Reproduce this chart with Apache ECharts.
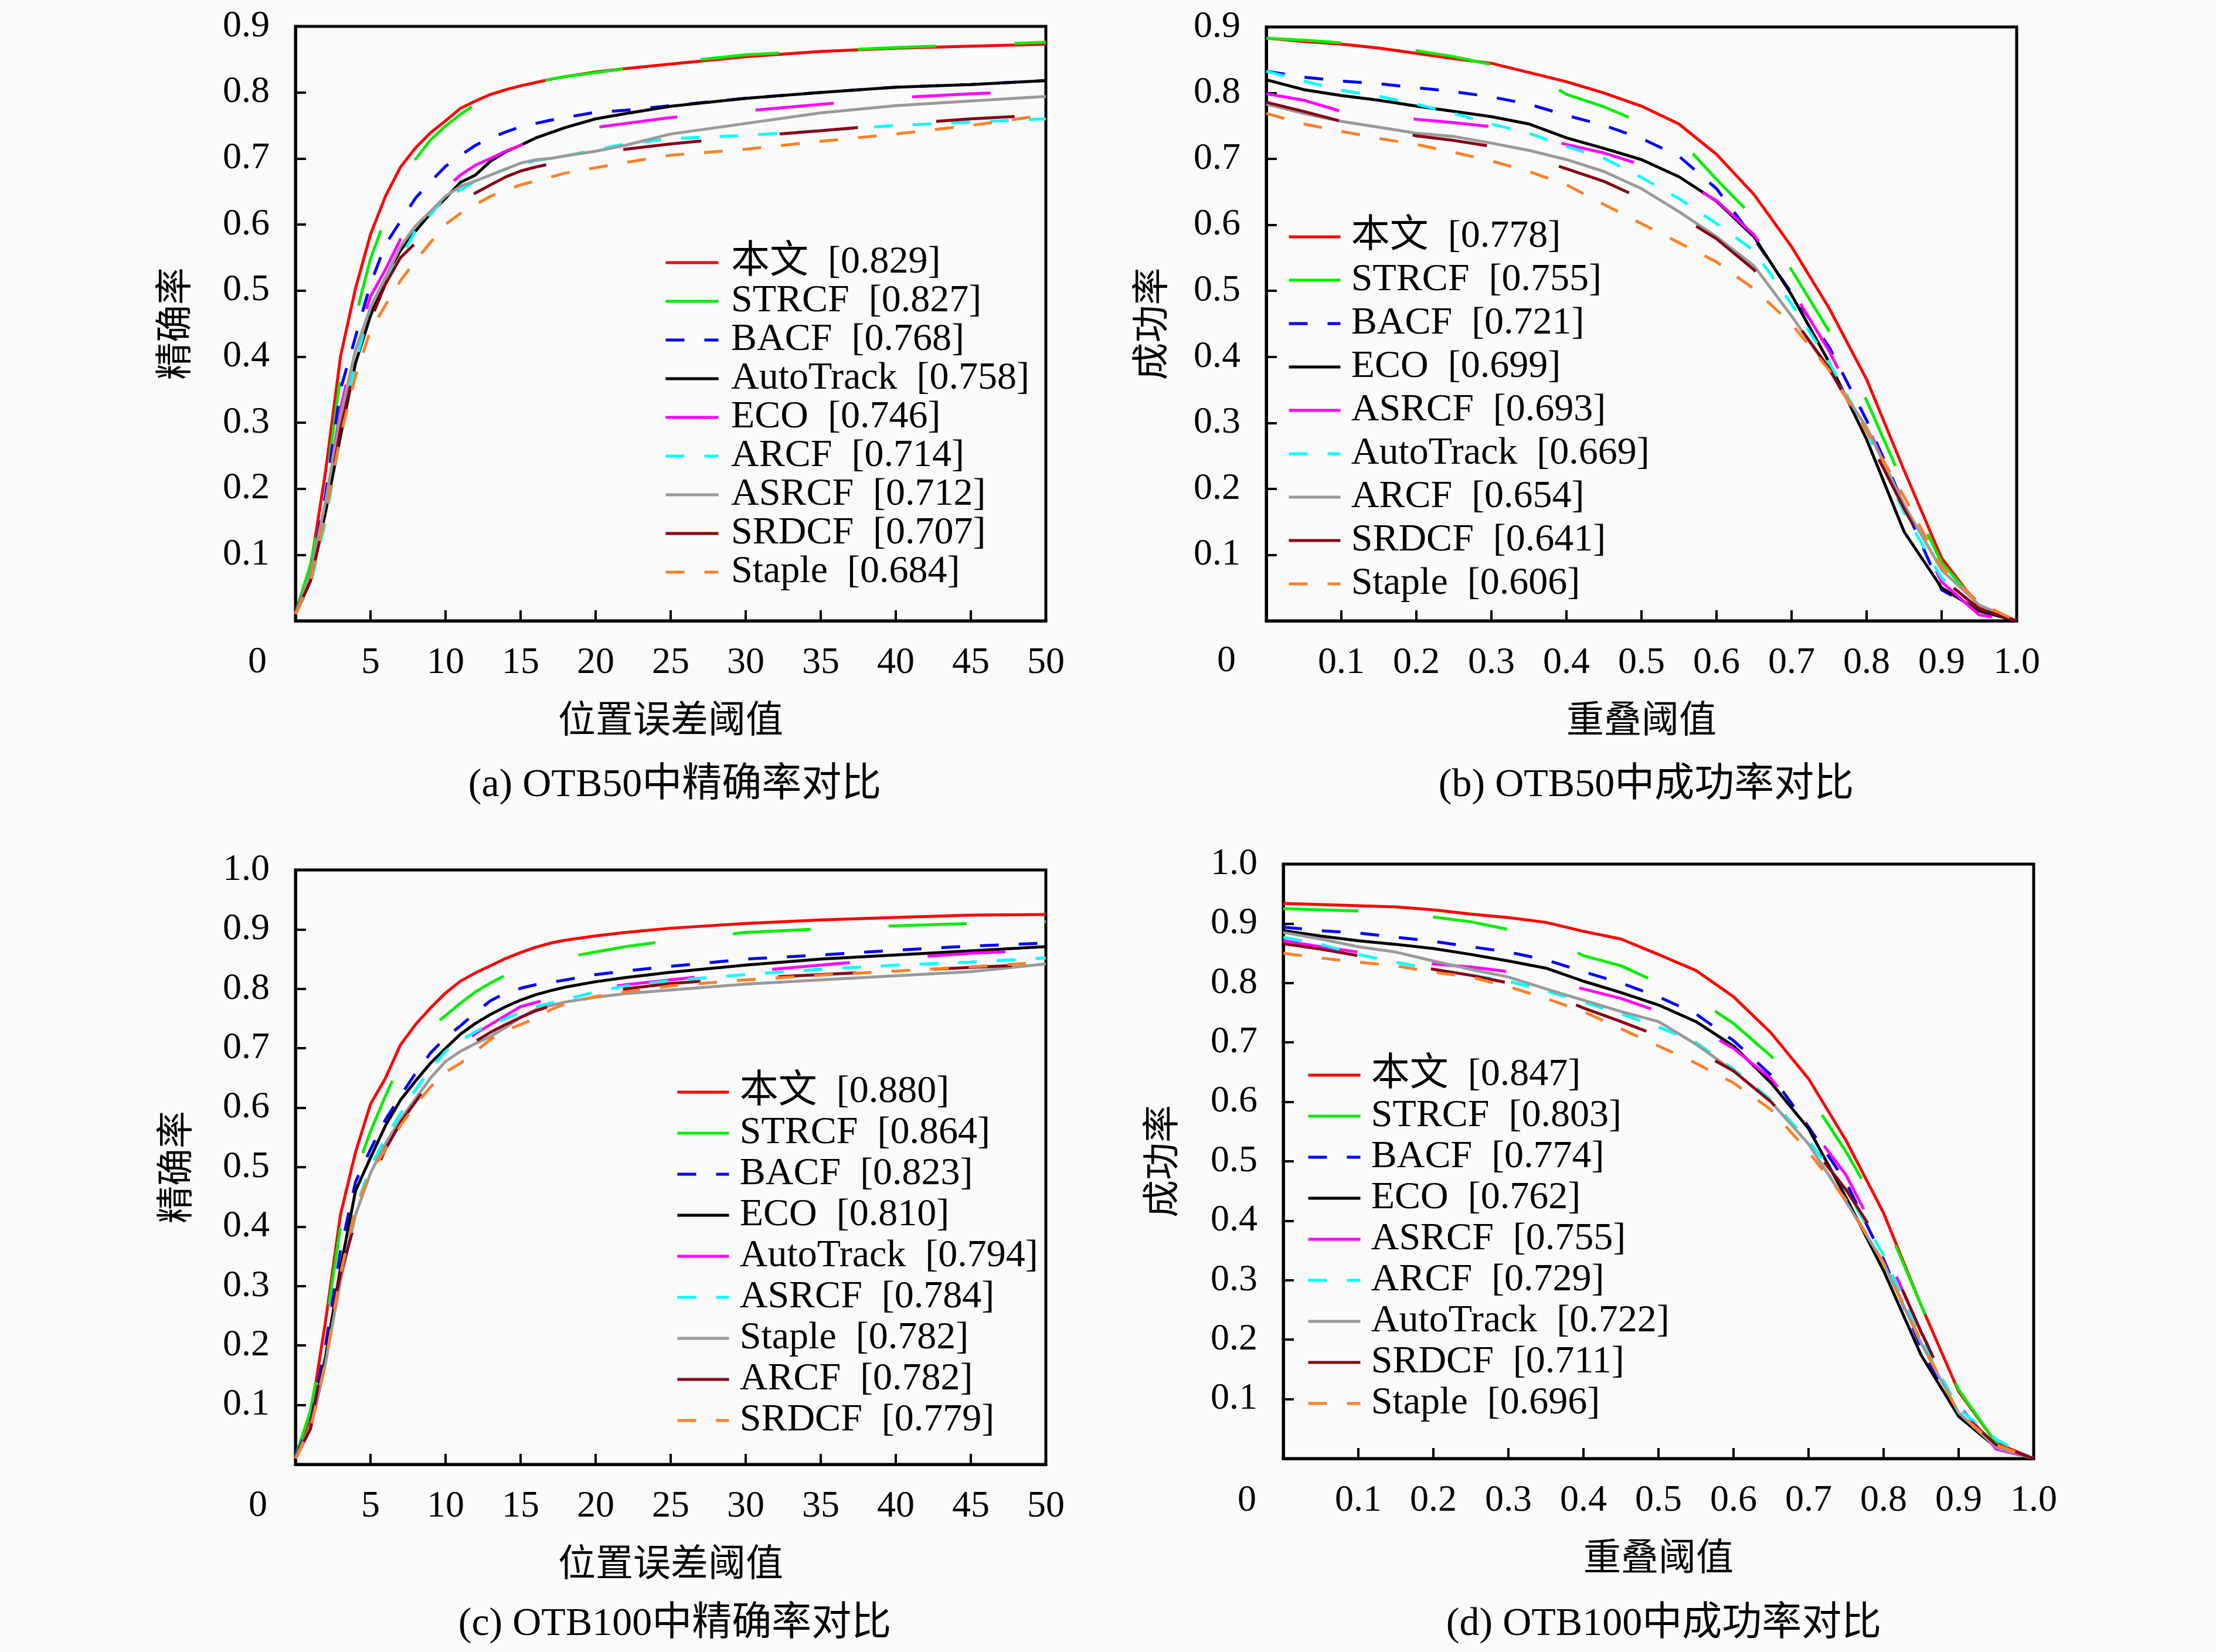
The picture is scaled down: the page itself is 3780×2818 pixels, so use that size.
<!DOCTYPE html>
<html>
<head>
<meta charset="utf-8">
<title>OTB precision / success</title>
<script src="https://cdn.jsdelivr.net/npm/echarts@6/dist/echarts.min.js"></script>
<style>
  html, body { margin: 0; padding: 0; background: #fafafa; }
  #chart { width: 3780px; height: 2818px; }
</style>
</head>
<body>
<div id="chart"></div>
<script>
// thresholds
var errThresholds = [0,1,2,3,4,5,6,7,8,9,10,11,12,13,14,15,16,17,18,20,22,25,30,35,40,45,50];
var overlapThresholds = [0,0.05,0.1,0.15,0.2,0.25,0.3,0.35,0.4,0.45,0.5,0.55,0.6,0.65,0.7,0.75,0.8,0.85,0.9,0.95,1.0];

// (a) OTB50 precision
var trackersA = ['本文','STRCF','BACF','AutoTrack','ECO','ARCF','ASRCF','SRDCF','Staple'];
var scoresA = ['0.829','0.827','0.768','0.758','0.746','0.714','0.712','0.707','0.684'];
var valuesA = [
  [0.012,0.08,0.225,0.40,0.503,0.585,0.643,0.687,0.716,0.739,0.757,0.776,0.787,0.797,0.804,0.81,0.815,0.82,0.824,0.831,0.836,0.843,0.854,0.862,0.867,0.87,0.873],
  [0.012,0.085,0.20,0.37,0.46,0.548,0.61,0.665,0.699,0.728,0.749,0.767,0.782,0.795,0.803,0.809,0.815,0.82,0.824,0.830,0.836,0.845,0.857,0.863,0.868,0.872,0.876],
  [0.012,0.07,0.19,0.35,0.43,0.51,0.57,0.605,0.64,0.665,0.688,0.705,0.72,0.731,0.74,0.748,0.753,0.758,0.762,0.77,0.773,0.78,0.791,0.80,0.808,0.812,0.818],
  [0.01,0.062,0.164,0.28,0.39,0.462,0.52,0.561,0.59,0.617,0.64,0.664,0.675,0.696,0.71,0.72,0.731,0.739,0.747,0.76,0.768,0.779,0.791,0.80,0.808,0.812,0.818],
  [0.01,0.07,0.18,0.32,0.42,0.491,0.532,0.578,0.61,0.635,0.655,0.675,0.69,0.70,0.711,0.72,0.727,0.733,0.738,0.747,0.753,0.762,0.772,0.782,0.792,0.798,0.802],
  [0.01,0.055,0.15,0.28,0.39,0.475,0.52,0.55,0.59,0.615,0.643,0.652,0.666,0.675,0.684,0.69,0.697,0.70,0.704,0.713,0.722,0.73,0.735,0.742,0.75,0.755,0.76],
  [0.01,0.07,0.18,0.31,0.41,0.474,0.52,0.567,0.598,0.62,0.643,0.658,0.666,0.675,0.684,0.693,0.698,0.70,0.704,0.711,0.72,0.737,0.753,0.769,0.78,0.787,0.794],
  [0.01,0.06,0.16,0.29,0.39,0.455,0.51,0.55,0.572,0.593,0.615,0.632,0.648,0.66,0.672,0.681,0.687,0.692,0.697,0.706,0.714,0.722,0.733,0.742,0.752,0.76,0.766],
  [0.01,0.06,0.16,0.28,0.37,0.44,0.478,0.515,0.545,0.573,0.60,0.617,0.63,0.643,0.652,0.66,0.666,0.672,0.678,0.686,0.694,0.705,0.714,0.726,0.737,0.75,0.766]
];

// (b) OTB50 success
var trackersB = ['本文','STRCF','BACF','ECO','ASRCF','AutoTrack','ARCF','SRDCF','Staple'];
var scoresB = ['0.778','0.755','0.721','0.699','0.693','0.669','0.654','0.641','0.606'];
var valuesB = [
  [0.883,0.878,0.874,0.868,0.86,0.852,0.845,0.831,0.817,0.80,0.78,0.753,0.707,0.646,0.567,0.474,0.366,0.228,0.095,0.021,0],
  [0.883,0.88,0.876,0.87,0.864,0.855,0.843,0.831,0.798,0.779,0.755,0.731,0.669,0.611,0.532,0.439,0.334,0.205,0.088,0.023,0],
  [0.833,0.824,0.818,0.814,0.808,0.802,0.794,0.783,0.766,0.751,0.731,0.704,0.655,0.579,0.497,0.415,0.304,0.176,0.047,0.015,0],
  [0.82,0.805,0.796,0.789,0.78,0.772,0.764,0.753,0.732,0.716,0.699,0.673,0.636,0.582,0.494,0.392,0.275,0.135,0.05,0.015,0],
  [0.799,0.789,0.772,0.766,0.76,0.755,0.749,0.737,0.722,0.709,0.691,0.669,0.637,0.585,0.503,0.409,0.298,0.17,0.059,0.009,0],
  [0.833,0.818,0.804,0.795,0.783,0.769,0.753,0.739,0.719,0.701,0.672,0.64,0.602,0.561,0.48,0.392,0.287,0.164,0.065,0.018,0],
  [0.783,0.769,0.757,0.748,0.739,0.734,0.724,0.713,0.699,0.681,0.655,0.62,0.582,0.538,0.462,0.38,0.293,0.176,0.077,0.024,0],
  [0.786,0.772,0.757,0.747,0.735,0.728,0.719,0.704,0.685,0.666,0.64,0.614,0.579,0.532,0.462,0.383,0.281,0.17,0.065,0.018,0],
  [0.769,0.753,0.742,0.731,0.722,0.71,0.697,0.681,0.661,0.631,0.602,0.573,0.544,0.503,0.45,0.38,0.287,0.188,0.082,0.027,0]
];

// (c) OTB100 precision
var trackersC = ['本文','STRCF','BACF','ECO','AutoTrack','ASRCF','Staple','ARCF','SRDCF'];
var scoresC = ['0.880','0.864','0.823','0.810','0.794','0.784','0.782','0.782','0.779'];
var valuesC = [
  [0.013,0.08,0.24,0.42,0.525,0.606,0.65,0.706,0.74,0.768,0.793,0.813,0.827,0.839,0.851,0.861,0.87,0.877,0.882,0.889,0.895,0.902,0.91,0.916,0.92,0.924,0.925],
  [0.013,0.09,0.23,0.40,0.49,0.56,0.62,0.675,0.71,0.735,0.755,0.776,0.795,0.81,0.823,0.833,0.842,0.848,0.853,0.862,0.871,0.881,0.895,0.901,0.906,0.91,0.913],
  [0.013,0.07,0.2,0.36,0.475,0.53,0.58,0.62,0.658,0.692,0.718,0.738,0.76,0.78,0.793,0.801,0.807,0.811,0.815,0.824,0.83,0.838,0.85,0.857,0.865,0.872,0.877],
  [0.01,0.065,0.18,0.33,0.46,0.516,0.57,0.613,0.645,0.675,0.70,0.724,0.742,0.757,0.77,0.781,0.79,0.797,0.803,0.812,0.819,0.828,0.84,0.85,0.857,0.864,0.871],
  [0.01,0.06,0.17,0.31,0.42,0.49,0.535,0.58,0.615,0.65,0.68,0.705,0.725,0.74,0.755,0.77,0.777,0.784,0.79,0.80,0.807,0.815,0.829,0.84,0.851,0.86,0.865],
  [0.01,0.065,0.17,0.32,0.43,0.50,0.55,0.59,0.63,0.665,0.695,0.713,0.728,0.74,0.75,0.76,0.77,0.776,0.782,0.795,0.805,0.814,0.824,0.833,0.84,0.845,0.852],
  [0.01,0.065,0.17,0.31,0.42,0.49,0.54,0.58,0.615,0.65,0.678,0.695,0.708,0.72,0.735,0.752,0.765,0.772,0.778,0.786,0.792,0.798,0.808,0.815,0.822,0.829,0.842],
  [0.01,0.06,0.2,0.32,0.41,0.475,0.53,0.575,0.61,0.645,0.675,0.697,0.712,0.727,0.74,0.752,0.763,0.771,0.778,0.788,0.80,0.809,0.818,0.824,0.83,0.836,0.842],
  [0.01,0.06,0.17,0.32,0.43,0.49,0.53,0.57,0.605,0.635,0.66,0.675,0.695,0.715,0.73,0.74,0.75,0.765,0.775,0.787,0.795,0.805,0.815,0.823,0.83,0.837,0.845]
];

// (d) OTB100 success
var trackersD = ['本文','STRCF','BACF','ECO','ASRCF','ARCF','AutoTrack','SRDCF','Staple'];
var scoresD = ['0.847','0.803','0.774','0.762','0.755','0.729','0.722','0.711','0.696'];
var valuesD = [
  [0.934,0.932,0.93,0.928,0.923,0.916,0.91,0.902,0.887,0.874,0.848,0.821,0.777,0.716,0.639,0.535,0.413,0.258,0.113,0.026,0],
  [0.925,0.923,0.921,0.916,0.911,0.903,0.89,0.877,0.846,0.829,0.80,0.774,0.732,0.677,0.613,0.516,0.406,0.258,0.116,0.026,0],
  [0.894,0.888,0.884,0.877,0.87,0.861,0.852,0.839,0.819,0.80,0.777,0.748,0.703,0.645,0.558,0.465,0.335,0.187,0.071,0.019,0],
  [0.888,0.879,0.871,0.865,0.858,0.848,0.837,0.825,0.803,0.784,0.763,0.735,0.694,0.632,0.555,0.439,0.316,0.174,0.071,0.019,0],
  [0.871,0.861,0.852,0.842,0.832,0.827,0.819,0.806,0.79,0.774,0.752,0.726,0.69,0.639,0.561,0.477,0.355,0.213,0.09,0.016,0],
  [0.877,0.865,0.848,0.835,0.823,0.813,0.803,0.787,0.768,0.748,0.726,0.70,0.655,0.603,0.535,0.452,0.342,0.20,0.084,0.032,0],
  [0.885,0.874,0.861,0.852,0.837,0.823,0.81,0.79,0.771,0.752,0.735,0.697,0.652,0.60,0.529,0.432,0.329,0.194,0.077,0.019,0],
  [0.866,0.857,0.846,0.84,0.823,0.813,0.80,0.784,0.758,0.735,0.711,0.687,0.652,0.60,0.532,0.452,0.355,0.213,0.081,0.023,0],
  [0.85,0.842,0.835,0.829,0.818,0.81,0.794,0.774,0.752,0.723,0.694,0.665,0.632,0.587,0.516,0.435,0.329,0.197,0.077,0.023,0]
];

// line style by rank (same in every panel); 'long' = solid line drawn in broken pieces
var rankColors = ['#ff0000','#00ee00','#0000ff','#000000','#ff00ff','#00ffff','#9a9a9a','#880015','#ff7f27'];
var rankDash = ['solid','long',[32,34],'solid','long',[32,34],'solid','long',[32,34]];

var FONT = '"Liberation Serif", "Noto Sans CJK SC", serif';
var CJK = '"Noto Sans CJK SC", "Liberation Serif", sans-serif';

var panels = [
  {xs: errThresholds, names: trackersA, scores: scoresA, values: valuesA,
   grid: {left: 504, top: 45, width: 1280, height: 1014}, longDash: 134,
   xMax: 50, xStep: 5, yMax: 0.9, xName: '位置误差阈值', yName: '精确率', yGap: 177,
   legend: {left: 1133, top: 415, w: 90, step: 66, pre: ' '},
   caption: '(a) OTB50中精确率对比', cap: [1151, 1340], zero: [439, 1130]},
  {xs: overlapThresholds, names: trackersB, scores: scoresB, values: valuesB,
   grid: {left: 2160, top: 46, width: 1280, height: 1013}, longDash: 128,
   xMax: 1, xStep: 0.1, yMax: 0.9, xName: '重叠阈值', yName: '成功率', yGap: 167,
   legend: {left: 2196, top: 367, w: 88, step: 74, pre: '\u2009'},
   caption: '(b) OTB50中成功率对比', cap: [2808, 1340], zero: [2092, 1128]},
  {xs: errThresholds, names: trackersC, scores: scoresC, values: valuesC,
   grid: {left: 504, top: 1484, width: 1280, height: 1014}, longDash: 133,
   xMax: 50, xStep: 5, yMax: 1.0, xName: '位置误差阈值', yName: '精确率', yGap: 175,
   legend: {left: 1153, top: 1828, w: 88, step: 70, pre: '\u2009'},
   caption: '(c) OTB100中精确率对比', cap: [1151, 2771], zero: [440, 2569]},
  {xs: overlapThresholds, names: trackersD, scores: scoresD, values: valuesD,
   grid: {left: 2189, top: 1474, width: 1280, height: 1014}, longDash: 128,
   xMax: 1, xStep: 0.1, yMax: 1.0, xName: '重叠阈值', yName: '成功率', yGap: 178,
   legend: {left: 2229, top: 1799, w: 89, step: 70, pre: '\u2009'},
   caption: '(d) OTB100中成功率对比', cap: [2838, 2771], zero: [2127, 2560]}
];

function seriesName(p, k) {
  return p.names[k] + '  [' + p.scores[k] + ']';
}

var option = {
  backgroundColor: '#fafafa',
  animation: false,
  grid: [], xAxis: [], yAxis: [], legend: [], series: [], graphic: []
};

panels.forEach(function (p, i) {
  option.grid.push({
    left: p.grid.left, top: p.grid.top, width: p.grid.width, height: p.grid.height,
    show: true, borderColor: '#000', borderWidth: 5, backgroundColor: 'transparent',
    containLabel: false, outerBoundsMode: 'none'
  });
  option.xAxis.push({
    type: 'value', gridIndex: i, min: 0, max: p.xMax, interval: p.xStep,
    name: p.xName, nameLocation: 'middle', nameGap: 134,
    nameTextStyle: {fontFamily: CJK, fontSize: 64, color: '#000'},
    axisLine: {show: true, lineStyle: {color: '#000', width: 5}},
    axisTick: {show: true, inside: true, length: 18, lineStyle: {color: '#000', width: 4}},
    splitLine: {show: false},
    axisLabel: {
      show: true, margin: 40, color: '#000', fontFamily: FONT, fontSize: 64,
      showMinLabel: true, showMaxLabel: true, hideOverlap: false,
      formatter: function (v) {
        if (v === 0) return '';
        return p.xStep < 1 ? v.toFixed(1) : String(Math.round(v));
      }
    }
  });
  option.yAxis.push({
    type: 'value', gridIndex: i, min: 0, max: p.yMax, interval: 0.1,
    name: p.yName, nameLocation: 'middle', nameGap: p.yGap, nameRotate: 90,
    nameTextStyle: {fontFamily: CJK, fontSize: 64, color: '#000'},
    axisLine: {show: true, lineStyle: {color: '#000', width: 5}},
    axisTick: {show: true, inside: true, length: 18, lineStyle: {color: '#000', width: 4}},
    splitLine: {show: false},
    axisLabel: {
      show: true, margin: 44, color: '#000', fontFamily: FONT, fontSize: 64,
      showMinLabel: true, showMaxLabel: true, hideOverlap: false,
      formatter: function (v) { return v === 0 ? '' : v.toFixed(1); }
    }
  });
  var legendNames = [];
  p.values.forEach(function (ys, k) {
    var name = seriesName(p, k);
    var dash = rankDash[k] === 'long' ? [p.longDash, p.longDash] : rankDash[k];
    legendNames.push(name);
    option.series.push({
      type: 'line', name: name, xAxisIndex: i, yAxisIndex: i,
      data: p.xs.map(function (x, j) { return [x, ys[j]]; }),
      symbol: 'none', showSymbol: false, smooth: false, clip: true,
      lineStyle: {color: rankColors[k], width: 5, type: dash},
      itemStyle: {color: rankColors[k]},
      emphasis: {disabled: true}
    });
  });
  option.legend.push({
    data: legendNames, orient: 'vertical',
    left: p.legend.left, top: p.legend.top, padding: 0, itemGap: 0,
    itemWidth: p.legend.w, itemHeight: 12, selectedMode: false,
    itemStyle: {opacity: 0, borderWidth: 0},
    lineStyle: {width: 5},
    formatter: (function (pre) { return function (n) { return pre + n; }; })(p.legend.pre),
    textStyle: {fontFamily: FONT, fontSize: 66, color: '#000', lineHeight: p.legend.step}
  });
  option.graphic.push({
    type: 'text', x: p.cap[0], y: p.cap[1], silent: true,
    style: {text: p.caption, fontFamily: FONT, fontSize: 68, fill: '#000', align: 'center', verticalAlign: 'middle'}
  });
  option.graphic.push({
    type: 'text', x: p.zero[0], y: p.zero[1], silent: true,
    style: {text: '0', fontFamily: FONT, fontSize: 64, fill: '#000', align: 'center', verticalAlign: 'middle'}
  });
});

var chart = echarts.init(document.getElementById('chart'));
chart.setOption(option);
</script>
</body>
</html>
